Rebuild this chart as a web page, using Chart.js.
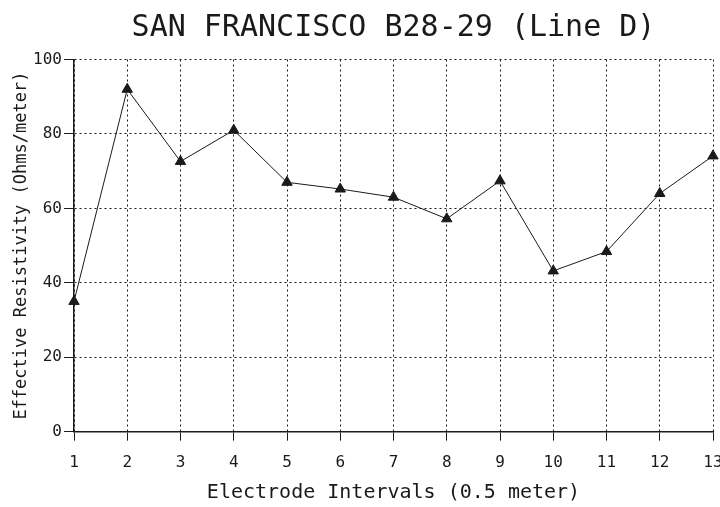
<!DOCTYPE html>
<html>
<head>
<meta charset="utf-8">
<script src="https://cdn.jsdelivr.net/npm/chart.js@4"></script>
<style>
  html, body { margin: 0; padding: 0; background: #fff; }
  #wrap { width: 720px; height: 507px; }
</style>
</head>
<body>
<div id="wrap"><canvas id="c"></canvas></div>
<script>
const intervals = ["1", "2", "3", "4", "5", "6", "7", "8", "9", "10", "11", "12", "13"];
const resistivity = [35, 92, 72.6, 81, 67, 65.2, 63, 57.2, 67.4, 43.2, 48.4, 64, 74.1];
const yTicks = [0, 20, 40, 60, 80, 100];
const chartTitle = "SAN FRANCISCO B28-29 (Line D)";

const mono = "'DejaVu Sans Mono', 'Liberation Mono', monospace";
const ink = "#1a1a1a";

// title sits over the plot centre, not the canvas centre
const titlePlugin = {
  id: "plotTitle",
  afterDraw(chart) {
    const { ctx, chartArea } = chart;
    ctx.save();
    ctx.fillStyle = ink;
    ctx.font = `30px ${mono}`;
    ctx.textAlign = "center";
    ctx.textBaseline = "alphabetic";
    ctx.fillText(chartTitle, (chartArea.left + chartArea.right) / 2 + 0, 36);
    ctx.restore();
  }
};

new Chart(document.getElementById("c"), {
  type: "line",
  data: {
    labels: intervals,
    datasets: [{
      data: resistivity,
      borderColor: ink,
      borderWidth: 1,
      backgroundColor: ink,
      pointStyle: "triangle",
      pointRadius: 6,
      pointBorderWidth: 1,
      tension: 0
    }]
  },
  options: {
    responsive: true,
    maintainAspectRatio: false,
    animation: false,
    layout: { padding: { left: 0, right: 5, top: 59.5, bottom: 0 } },
    plugins: {
      legend: { display: false },
      tooltip: { enabled: false },
      title: { display: false }
    },
    scales: {
      x: {
        type: "category",
        offset: false,
        afterFit: (s) => { s.height = 75.3; s.paddingRight = 0; },
        grid: { color: ink, lineWidth: 1, tickLength: 9, tickColor: ink },
        border: { display: true, color: ink, width: 1.5, dash: [2, 3] },
        ticks: {
          color: ink, padding: 13, maxRotation: 0, autoSkip: false,
          font: { family: mono, size: 16 }
        },
        title: {
          display: true,
          text: "Electrode Intervals (0.5 meter)",
          color: ink,
          font: { family: mono, size: 20 },
          padding: { top: 0, bottom: 2 }
        }
      },
      y: {
        min: 0,
        max: 100,
        afterFit: (s) => { s.width = 74; s.paddingTop = 0; },
        afterBuildTicks: (s) => { s.ticks = yTicks.map(v => ({ value: v })); },
        grid: { color: ink, lineWidth: 1, tickLength: 10, tickColor: ink },
        border: { display: true, color: ink, width: 1.5, dash: [2, 3] },
        ticks: {
          color: ink, padding: 2,
          font: { family: mono, size: 16 }
        },
        title: {
          display: true,
          text: "Effective Resistivity (Ohms/meter)",
          color: ink,
          font: { family: mono, size: 17 },
          padding: { top: 11, bottom: 0 }
        }
      }
    }
  },
  plugins: [titlePlugin]
});
</script>
</body>
</html>
